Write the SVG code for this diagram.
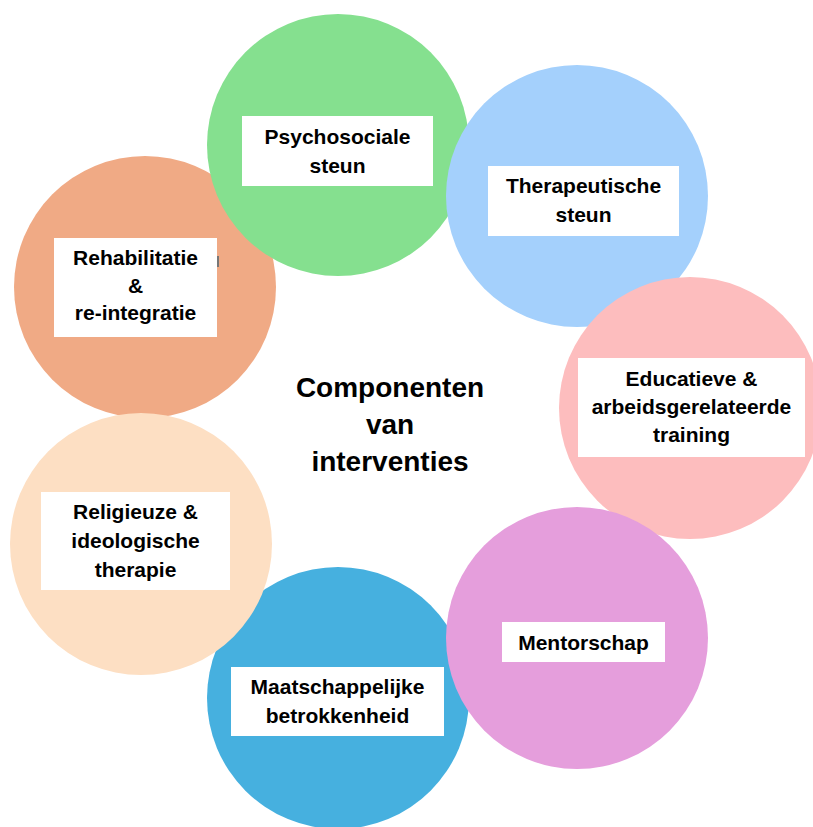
<svg xmlns="http://www.w3.org/2000/svg" width="813" height="827" viewBox="0 0 813 827">
<style>
.lbl{font-family:"Liberation Sans",Arial,sans-serif;font-weight:bold;font-size:21px;fill:#000;text-anchor:middle}
.title{font-family:"Liberation Sans",Arial,sans-serif;font-weight:bold;font-size:28px;fill:#000;text-anchor:middle}
.box{fill:#fff}
</style>
<rect width="813" height="827" fill="#fff"/>
<g id="node-maatschappelijke">
<circle cx="338" cy="698" r="131" fill="#46B0DF"/>
<rect class="box" x="231" y="667" width="213" height="69"/>
<text class="lbl" x="337.5" y="694">Maatschappelijke</text>
<text class="lbl" x="337.5" y="723">betrokkenheid</text>
</g>
<g id="node-rehabilitatie">
<circle cx="145" cy="287" r="131" fill="#F0AA85"/>
<rect class="box" x="54" y="238" width="163" height="99"/>
<rect x="217" y="256" width="2" height="11" fill="#777"/>
<text class="lbl" x="135.5" y="265">Rehabilitatie</text>
<text class="lbl" x="135.5" y="293">&amp;</text>
<text class="lbl" x="135.5" y="320">re-integratie</text>
</g>
<g id="node-psychosociale">
<circle cx="338" cy="145" r="131" fill="#85E08F"/>
<rect class="box" x="242" y="116" width="191" height="70"/>
<text class="lbl" x="337.5" y="144">Psychosociale</text>
<text class="lbl" x="337.5" y="173">steun</text>
</g>
<g id="node-therapeutische">
<circle cx="577" cy="196" r="131" fill="#A4D0FC"/>
<rect class="box" x="488" y="166" width="191" height="70"/>
<text class="lbl" x="583.5" y="193">Therapeutische</text>
<text class="lbl" x="583.5" y="222">steun</text>
</g>
<g id="node-educatieve">
<circle cx="690" cy="408" r="131" fill="#FDBDBE"/>
<rect class="box" x="578" y="358" width="227" height="99"/>
<text class="lbl" x="691.5" y="386">Educatieve &amp;</text>
<text class="lbl" x="691.5" y="414">arbeidsgerelateerde</text>
<text class="lbl" x="691.5" y="442">training</text>
</g>
<g id="node-mentorschap">
<circle cx="577" cy="638" r="131" fill="#E59EDC"/>
<rect class="box" x="502" y="622" width="163" height="40"/>
<text class="lbl" x="583.5" y="650">Mentorschap</text>
</g>
<g id="node-religieuze">
<circle cx="141" cy="544" r="131" fill="#FDDFC3"/>
<rect class="box" x="41" y="492" width="189" height="98"/>
<text class="lbl" x="135.5" y="519">Religieuze &amp;</text>
<text class="lbl" x="135.5" y="548">ideologische</text>
<text class="lbl" x="135.5" y="577">therapie</text>
</g>
<g id="center">
<text class="title" x="390" y="397">Componenten</text>
<text class="title" x="390" y="434">van</text>
<text class="title" x="390" y="471">interventies</text>
</g>
<g id="connectors"/>
</svg>
